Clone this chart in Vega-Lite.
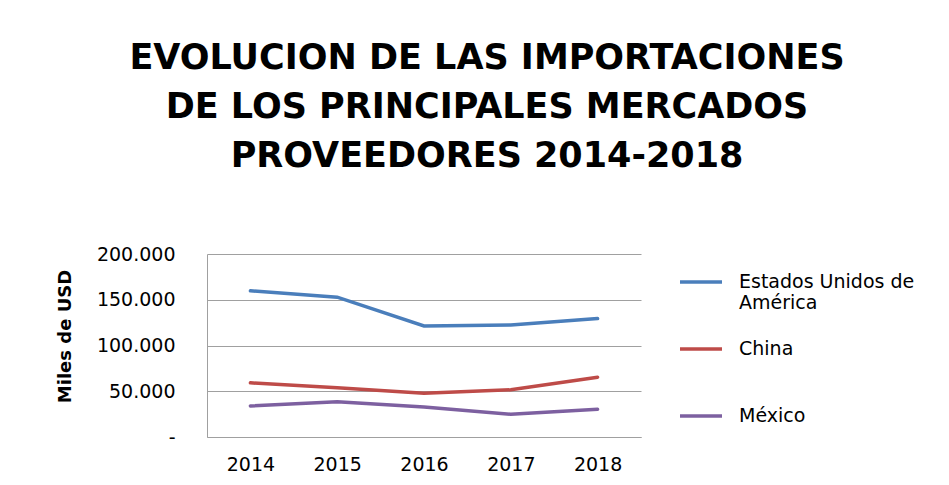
{
  "$schema": "https://vega.github.io/schema/vega-lite/v6.json",
  "width": 434,
  "height": 183,
  "autosize": {"type": "none"},
  "padding": {"left": 207, "top": 254, "right": 308, "bottom": 48},
  "background": "white",
  "title": {
    "text": ["EVOLUCION DE LAS IMPORTACIONES", "DE LOS PRINCIPALES MERCADOS", "PROVEEDORES 2014-2018"],
    "font": "DejaVu Sans",
    "fontSize": 35,
    "fontWeight": "bold",
    "color": "#000000",
    "lineHeight": 49,
    "anchor": "middle",
    "dx": 63,
    "offset": 71
  },
  "data": {
    "values": [
      {"year": "2014", "pais": "Estados Unidos de América", "valor": 159800},
      {"year": "2015", "pais": "Estados Unidos de América", "valor": 152800},
      {"year": "2016", "pais": "Estados Unidos de América", "valor": 121400},
      {"year": "2017", "pais": "Estados Unidos de América", "valor": 122500},
      {"year": "2018", "pais": "Estados Unidos de América", "valor": 129400},
      {"year": "2014", "pais": "China", "valor": 59200},
      {"year": "2015", "pais": "China", "valor": 53700},
      {"year": "2016", "pais": "China", "valor": 47900},
      {"year": "2017", "pais": "China", "valor": 51600},
      {"year": "2018", "pais": "China", "valor": 65400},
      {"year": "2014", "pais": "México", "valor": 34000},
      {"year": "2015", "pais": "México", "valor": 38400},
      {"year": "2016", "pais": "México", "valor": 32900},
      {"year": "2017", "pais": "México", "valor": 24900},
      {"year": "2018", "pais": "México", "valor": 30300}
    ]
  },
  "mark": {"type": "line", "strokeWidth": 3.5, "strokeCap": "round"},
  "encoding": {
    "x": {
      "field": "year", "type": "ordinal",
      "scale": {"type": "point", "padding": 0.5},
      "axis": {
        "title": null, "labelAngle": 0, "ticks": false, "grid": false,
        "domainColor": "#a0a0a0", "labelFont": "DejaVu Sans", "labelFontSize": 19,
        "labelColor": "#000000", "labelPadding": 18
      }
    },
    "y": {
      "field": "valor", "type": "quantitative",
      "scale": {"domain": [0, 200000]},
      "axis": {
        "title": "Miles de USD", "titleFont": "DejaVu Sans", "titleFontSize": 18,
        "titleFontWeight": "bold", "titleColor": "#000000", "titlePadding": 22,
        "titleY": 82,
        "values": [0, 50000, 100000, 150000, 200000],
        "labelExpr": "datum.value == 0 ? '-' : replace(format(datum.value, ',.0f'), ',', '.')",
        "ticks": false, "labelPadding": 32, "labelFont": "DejaVu Sans", "labelFontSize": 19,
        "labelColor": "#000000", "gridColor": "#a0a0a0", "domainColor": "#a0a0a0"
      }
    },
    "color": {
      "field": "pais", "type": "nominal",
      "sort": ["Estados Unidos de América", "China", "México"],
      "scale": {"domain": ["Estados Unidos de América", "China", "México"], "range": ["#4a7ebb", "#be4b48", "#7d60a0"]},
      "legend": {
        "title": null, "orient": "right", "offset": 32, "padding": 5,
        "symbolType": "stroke", "symbolSize": 1764, "symbolStrokeWidth": 3.5,
        "labelFont": "DejaVu Sans", "labelFontSize": 19, "labelColor": "#000000",
        "labelExpr": "datum.label == 'Estados Unidos de América' ? ['Estados Unidos de', 'América'] : datum.label == 'China' ? ['China', ''] : datum.label",
        "rowPadding": 13, "labelOffset": 15, "labelLimit": 300
      }
    }
  },
  "config": {"view": {"stroke": null}}
}
